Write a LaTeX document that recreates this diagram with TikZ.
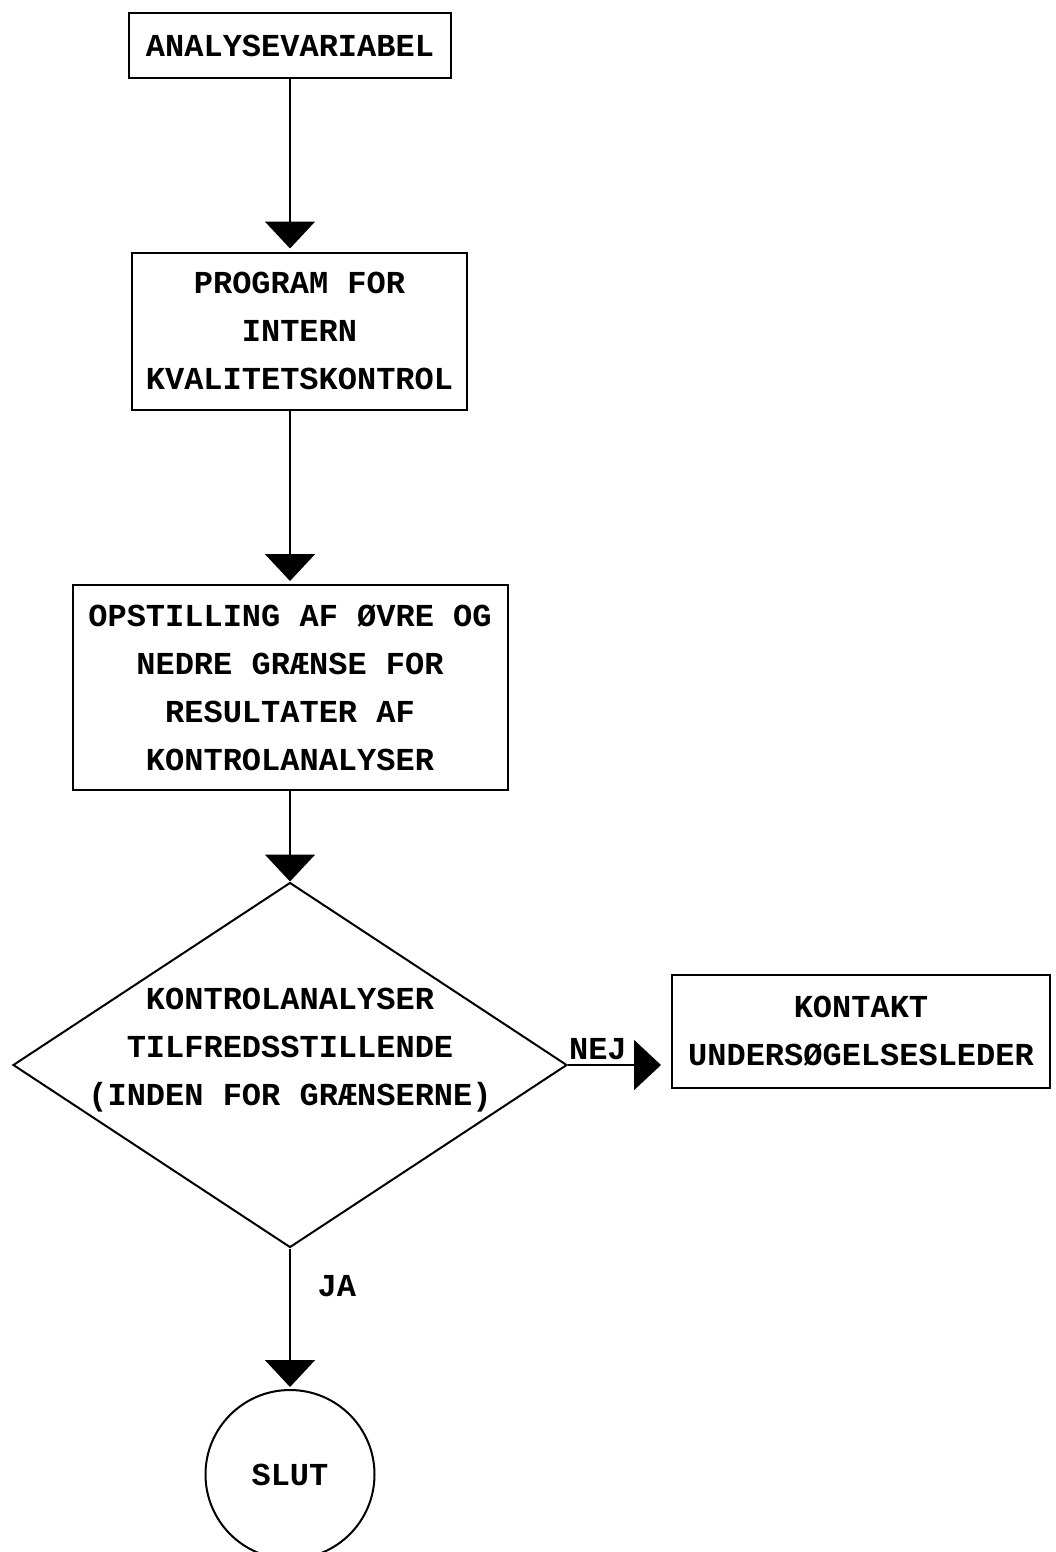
\documentclass[tikz,border=0pt]{standalone}
\usepackage{fontspec}
\setmonofont{Liberation Mono}
\usetikzlibrary{shapes.geometric,arrows.meta}
\begin{document}
\begin{tikzpicture}[x=0.5pt,y=-0.5pt]
	% Styles
	\tikzstyle{fleche}=[-{Triangle[width=25pt,length=13.5pt]},line width=1pt]
	\tikzstyle{boite}=[draw,line width=1pt,inner sep=0pt,align=center,font=\ttfamily\bfseries\fontsize{16}{24}\selectfont]
	\tikzstyle{losange}=[boite,diamond,inner sep=0pt]
	\tikzstyle{rond}=[boite,circle]
	\tikzstyle{commentaire}=[align=center,font=\ttfamily\bfseries\fontsize{16}{24}\selectfont]
	% Dimensions
	\def\Axe{290}
	\def\AxeDroit{861}
	% Cadre
	\useasboundingbox (0,0) rectangle (1055,1552);
	% Noeuds
	\node[boite,minimum width=161pt,minimum height=32.5pt] (Var) at ({\Axe},45.5) {ANALYSEVARIABEL};
	\node[boite,minimum width=167.5pt,minimum height=78.5pt] (Prog) at (299.5,331) {PROGRAM FOR\\INTERN\\KVALITETSKONTROL};
	\node[boite,minimum width=217.5pt,minimum height=102.5pt] (Graense) at ({\Axe},687.5) {OPSTILLING AF ØVRE OG\\NEDRE GRÆNSE FOR\\RESULTATER AF\\KONTROLANALYSER};
	\node[losange,minimum width=277pt,minimum height=182.5pt,
		label={[commentaire,yshift=7.5pt]center:{KONTROLANALYSER\\TILFREDSSTILLENDE\\(INDEN FOR GRÆNSERNE)}}] (Test) at ({\Axe},1065) {};
	\node[boite,minimum width=189pt,minimum height=56.5pt] (Kontakt) at ({\AxeDroit},1031.5) {KONTAKT\\UNDERSØGELSESLEDER};
	\node[rond,minimum size=84.5pt] (Slut) at ({\Axe},1474.5) {SLUT};
	% Arcs
	\draw[fleche,shorten >=1.5pt] (Var.south)--(Var.south |- Prog.north);
	\draw[fleche,shorten >=1.5pt] (Prog.south -| Var.south)--(Graense.north);
	\draw[fleche] (Graense.south)--(Test.north);
	\draw[fleche,shorten >=5pt] (Test.east)--(Test.east -| Kontakt.west) node[commentaire,pos=0.29,above,inner sep=2pt]{NEJ};
	\draw[fleche,shorten >=1pt] (Test.south)--(Slut.north) node[commentaire,pos=0.27,right,xshift=10pt]{JA};
\end{tikzpicture}
\end{document}
